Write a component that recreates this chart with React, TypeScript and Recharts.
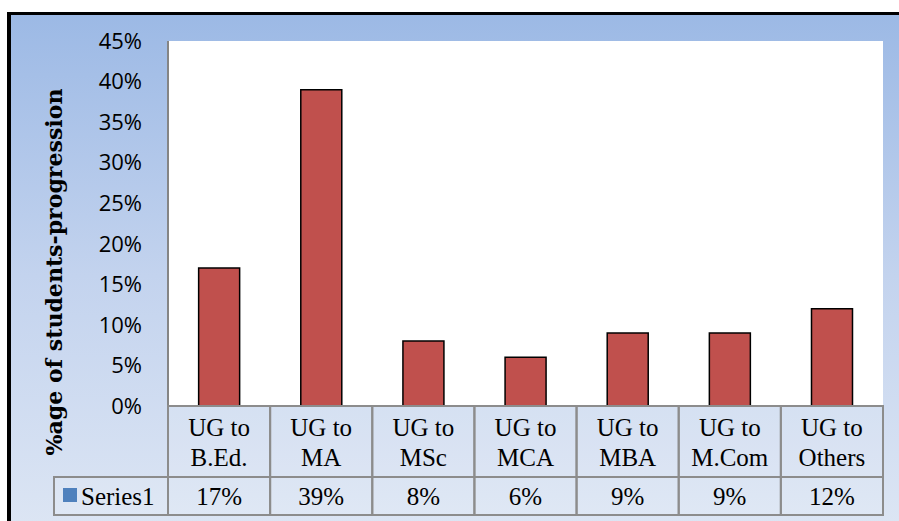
import React from 'react';
import { BarChart, Bar, XAxis, YAxis, CartesianGrid } from 'recharts';

// chart data
const CATEGORIES = ['UG to B.Ed.', 'UG to MA', 'UG to MSc', 'UG to MCA', 'UG to MBA', 'UG to M.Com', 'UG to Others'];
const PROGRESSION = [17, 39, 8, 6, 9, 9, 12];
const Y_TICKS = [0, 5, 10, 15, 20, 25, 30, 35, 40, 45];
const SERIES_NAME = 'Series1';
const Y_TITLE = '%age of students-progression';

const W = 899;
const H = 521;
const MARGIN = { top: 41, right: 16, bottom: 0, left: 0 };
const Y_AXIS_W = 168;
const X_AXIS_H = 115;
const BAND = (W - MARGIN.right - Y_AXIS_W) / CATEGORIES.length;

const data = CATEGORIES.map((name, i) => ({ name, value: PROGRESSION[i] }));

const GRID = '#8c8c8c';
const SERIF = 'Liberation Serif, Times New Roman, serif';
const FS = 25;

// category label + value row of the data table under the plot
function TableTick(props: any) {
  const { x, y, payload, index } = props;
  const left = x - BAND / 2;
  const label: string = payload.value;
  const line1 = 'UG to';
  const line2 = label.replace('UG to ', '');
  const rowH = 71;
  const valH = 38;
  return (
    <g>
      <rect x={left} y={y} width={BAND} height={rowH} fill="rgba(255,255,255,0.12)" stroke={GRID} strokeWidth={2} />
      <rect x={left} y={y + rowH} width={BAND} height={valH} fill="rgba(255,255,255,0.12)" stroke={GRID} strokeWidth={2} />
      <text x={x} y={y + 21} textAnchor="middle" dominantBaseline="central" style={{ fontFamily: SERIF }} fontSize={FS} fill="#000">
        {line1}
      </text>
      <text x={x} y={y + 51} textAnchor="middle" dominantBaseline="central" style={{ fontFamily: SERIF }} fontSize={FS} fill="#000">
        {line2}
      </text>
      <text x={x} y={y + rowH + 19} textAnchor="middle" dominantBaseline="central" style={{ fontFamily: SERIF }} fontSize={FS} fill="#000">
        {PROGRESSION[index]}%
      </text>
      {index === 0 && (
        <g>
          <rect x={54} y={y + rowH} width={left - 54} height={valH} fill="rgba(255,255,255,0.12)" stroke={GRID} strokeWidth={2} />
          <rect x={63} y={y + rowH + 11} width={14} height={14} fill="#4f81bd" />
          <text x={81} y={y + rowH + 19} dominantBaseline="central" style={{ fontFamily: SERIF }} fontSize={FS} fill="#000">
            {SERIES_NAME}
          </text>
        </g>
      )}
    </g>
  );
}

export default function App() {
  return (
    <div style={{ position: 'absolute', left: 0, top: 0, width: W, height: H, overflow: 'hidden', background: '#fff' }}>
      <div
        style={{
          position: 'absolute',
          left: 7,
          top: 12,
          width: W,
          height: H,
          borderLeft: '4px solid #000',
          borderTop: '3px solid #000',
          background: 'linear-gradient(180deg, #9cb9e5 0%, #c3d3ee 50%, #dde6f4 100%)',
        }}
      />
      <div style={{ position: 'absolute', left: 0, top: 0 }}>
        <BarChart width={W} height={H} data={data} margin={MARGIN} barCategoryGap="30%">
          <CartesianGrid fill="#ffffff" horizontal={false} vertical={false} />
          <YAxis
            width={Y_AXIS_W}
            domain={[0, 45]}
            ticks={Y_TICKS}
            interval={0}
            tickFormatter={(v: number) => `${v}%`}
            tick={{ fill: '#000', fontSize: 22, fontFamily: 'Open Sans, sans-serif' }}
            tickLine={false}
            tickSize={0}
            tickMargin={26}
            axisLine={{ stroke: '#858585', strokeWidth: 2 }}
            label={{
              content: () => (
                <text
                  x={0}
                  y={0}
                  transform="translate(62 272) rotate(-90)"
                  textAnchor="middle"
                  style={{ fontFamily: 'DejaVu Serif, serif', fontWeight: 'bold' }}
                  fontSize={22}
                  textLength={367}
                  lengthAdjust="spacingAndGlyphs"
                  fill="#000"
                >
                  {Y_TITLE}
                </text>
              ),
            }}
          />
          <XAxis
            dataKey="name"
            height={X_AXIS_H}
            interval={0}
            axisLine={false}
            tickLine={false}
            tickSize={0}
            tickMargin={0}
            tick={<TableTick />}
          />
          <Bar dataKey="value" name={SERIES_NAME} fill="#c0504d" stroke="#000" strokeWidth={1.5} isAnimationActive={false} />
        </BarChart>
      </div>
    </div>
  );
}
